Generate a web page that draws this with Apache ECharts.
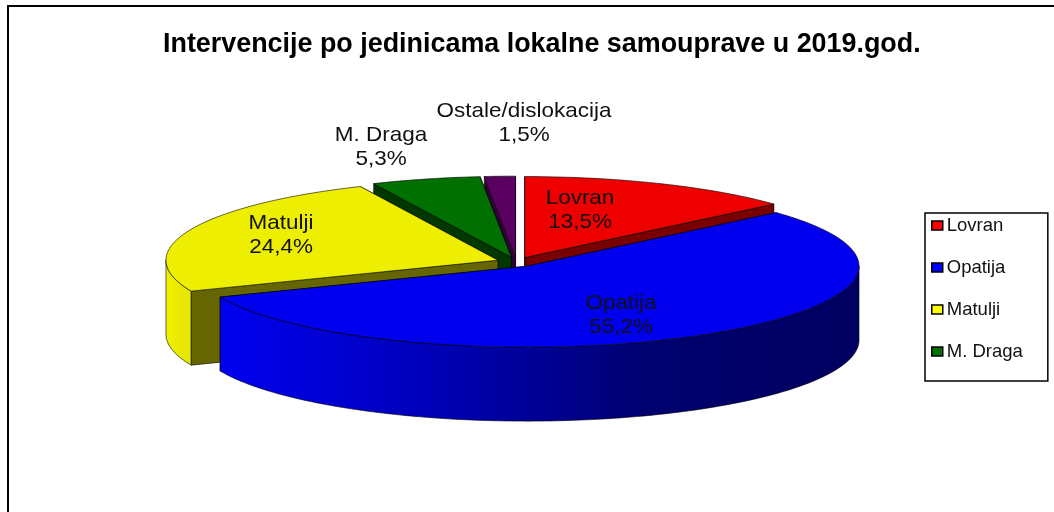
<!DOCTYPE html>
<html>
<head>
<meta charset="utf-8">
<title>Intervencije</title>
<style>
  html, body { margin: 0; padding: 0; background: #fff; }
  #chart { width: 1054px; height: 512px; }
</style>
<script src="https://cdn.jsdelivr.net/npm/echarts@6/dist/echarts.min.js"></script>
</head>
<body>
<div id="chart"></div>
<script>
// podaci
var chartTitle = "Intervencije po jedinicama lokalne samouprave u 2019.god.";
var sliceNames = ["Lovran", "Opatija", "Matulji", "M. Draga", "Ostale/dislokacija"];
var sliceValues = [13.5, 55.2, 24.4, 5.3, 1.5];
var legendNames = ["Lovran", "Opatija", "Matulji", "M. Draga"];

// boje
var topColors = ["#ee0000", "#0000ee", "#eeee00", "#007000", "#5a0060"];
var legendColors = ["#ff0000", "#0000ff", "#ffff00", "#007000"];
var cutColors = ["#780000", "#000078", "#666600", "#003800", "#30003a"];
var wallStops = [
  ["#ee0000", "#780000"],
  ["#0000f0", "#0000b8", "#000070", "#000060"],
  ["#f0f000", "#e4e400"],
  ["#007000", "#003800"],
  ["#5a0060", "#30003a"]
];

// raspored
var pieX = 516.5, pieY = 262;
var radiusX = 332, radiusY = 81, depth = 74;
var explode = 0.06;
var labelCenters = [[580, 210], [621, 315], [281, 235], [381, 147], [524, 123]];
var textStretch = 1.07;
var drawOrder = [4, 3, 0, 2, 1];

var total = sliceValues.reduce(function (a, b) { return a + b; }, 0);

function sliceStart(i) {
  var sum = 0;
  for (var k = 0; k < i; k++) sum += sliceValues[k];
  return sum / total * 360;
}

function toPoint(apex, deg, drop) {
  var r = deg * Math.PI / 180;
  return [apex[0] + radiusX * Math.sin(r), apex[1] - radiusY * Math.cos(r) + drop];
}

function arcPoints(apex, from, to, drop) {
  var pts = [];
  var n = Math.max(2, Math.ceil(Math.abs(to - from)));
  for (var k = 0; k <= n; k++) {
    pts.push(toPoint(apex, from + (to - from) * k / n, drop));
  }
  return pts;
}

function percentText(v) {
  return v.toFixed(1).replace(".", ",") + "%";
}

function makeRender(i) {
  return function (params, api) {
    var from = sliceStart(i);
    var to = from + api.value(0) / total * 360;
    var mid = (from + to) / 2 * Math.PI / 180;
    var apex = [
      pieX + explode * radiusX * Math.sin(mid),
      pieY - explode * radiusY * Math.cos(mid)
    ];
    var line = { stroke: "rgba(0,0,0,0.75)", lineWidth: 0.8 };
    var children = [];

    // rezovi, zadnji prvo pa ga prednji pokrije
    [to, from].forEach(function (deg) {
      var p = toPoint(apex, deg, 0), q = toPoint(apex, deg, depth);
      children.push({
        type: "polygon",
        shape: { points: [apex, p, q, [apex[0], apex[1] + depth]] },
        style: { fill: cutColors[i], stroke: line.stroke, lineWidth: line.lineWidth }
      });
    });

    // prednji zid
    var wallFrom = Math.max(from, 90), wallTo = Math.min(to, 270);
    if (wallTo > wallFrom) {
      var stops = wallStops[i].map(function (c, k, all) {
        return { offset: k / (all.length - 1), color: c };
      });
      children.push({
        type: "polygon",
        shape: {
          points: arcPoints(apex, wallFrom, wallTo, 0).concat(arcPoints(apex, wallTo, wallFrom, depth))
        },
        style: {
          fill: new echarts.graphic.LinearGradient(0, 0, 1, 0, stops),
          stroke: line.stroke,
          lineWidth: line.lineWidth
        }
      });
    }

    // gornja ploha
    children.push({
      type: "polygon",
      shape: { points: [apex].concat(arcPoints(apex, from, to, 0)) },
      style: { fill: topColors[i], stroke: line.stroke, lineWidth: line.lineWidth }
    });

    children.push({
      type: "text",
      x: labelCenters[i][0],
      y: labelCenters[i][1],
      scaleX: textStretch,
      z2: 20,
      style: {
        text: sliceNames[i] + "\n" + percentText(api.value(0)),
        x: 0,
        y: 0,
        align: "center",
        verticalAlign: "middle",
        fill: "#111",
        font: "21px 'Liberation Sans', Arial, sans-serif",
        lineHeight: 24
      }
    });

    return { type: "group", children: children };
  };
}

var myChart = echarts.init(document.getElementById("chart"), null, { renderer: "canvas" });

var option = {
  animation: false,
  backgroundColor: "#fff",
  title: {
    text: chartTitle,
    left: 163,
    top: 31,
    padding: 0,
    textStyle: {
      color: "#000",
      fontFamily: "'Liberation Sans', Arial, sans-serif",
      fontWeight: "bold",
      fontSize: 26.9
    }
  },
  legend: {
    orient: "vertical",
    left: 925,
    top: 213,
    padding: [3, 25, 20, 6],
    selectedMode: false,
    icon: "rect",
    itemWidth: 11,
    itemHeight: 9,
    itemGap: 23,
    borderColor: "#000",
    borderWidth: 1.5,
    backgroundColor: "#fff",
    itemStyle: { borderColor: "#000", borderWidth: 1.5 },
    textStyle: {
      color: "#111",
      fontFamily: "'Liberation Sans', Arial, sans-serif",
      fontSize: 18.5,
      padding: [0, 0, 0, -1]
    },
    data: legendNames.map(function (name) {
      return { name: name, itemStyle: { color: legendColors[sliceNames.indexOf(name)] } };
    })
  },
  graphic: [{
    type: "polyline",
    shape: { points: [[8, 512], [8, 6], [1054, 6]] },
    style: { stroke: "#000", lineWidth: 2, fill: null },
    silent: true
  }],
  series: drawOrder.map(function (i) {
    return {
      name: sliceNames[i],
      type: "custom",
      coordinateSystem: "none",
      silent: true,
      itemStyle: { color: topColors[i] },
      data: [[sliceValues[i]]],
      renderItem: makeRender(i)
    };
  })
};

myChart.setOption(option);
</script>
</body>
</html>
